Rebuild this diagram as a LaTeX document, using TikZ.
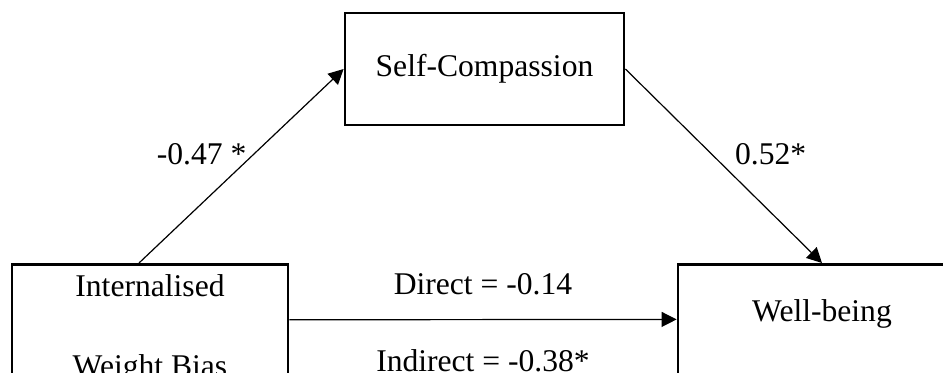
\documentclass[tikz,border=0pt]{standalone}
\usepackage{fontspec}
\setmainfont{Liberation Serif}
\usepackage{tikz}
\usetikzlibrary{positioning,arrows.meta}

\begin{document}
\begin{tikzpicture}[
  x=0.5pt, y=-0.5pt,
  every node/.style = {font=\fontsize{15.8}{19}\selectfont},
  %% box styles
  vbox/.style   = {rectangle, draw=black, line width=1.4pt,
                   align=center, inner xsep=4pt, inner ysep=5pt},
  medbox/.style = {vbox, minimum width=139.5pt, minimum height=56pt},
  sidebox/.style= {vbox, anchor=north},
  %% coefficient labels
  coef/.style   = {inner sep=0.333em},
  %% arrow
  arr/.style    = {-{Triangle[length=7.5pt,width=7.5pt]}, line width=0.6pt,
                   draw=black}
]

\useasboundingbox (0,0) rectangle (943,372);

%% ---- Nodes ----
\node[medbox] (SC) at (484.5,69) {Self-Compassion};

\node[sidebox, minimum width=138pt] (IWB) at (150,263)
  {Internalised\\[21pt]Weight Bias};

\node[sidebox, minimum width=144pt, text height=23.5pt,
      text depth=30.5pt] (WB) at (822,263) {Well-being};

%% ---- Arrows ----
\draw[arr] ([xshift=-5.5pt]IWB.north) -- (SC.west)
  node[coef, pos=0.56, left] (AP) {-0.47 *};
\draw[arr] (SC.east) -- (WB.north)
  node[coef, pos=0.44, right=8pt] (BP) {0.52*};
\draw[arr] ([yshift=4.5pt]IWB.east) -- ([yshift=4.5pt]WB.west)
  node[coef, midway, above=8.7pt] (DIR) {Direct = -0.14}
  node[coef, midway, below=11.4pt] (IND) {Indirect = -0.38*};

\end{tikzpicture}
\end{document}
